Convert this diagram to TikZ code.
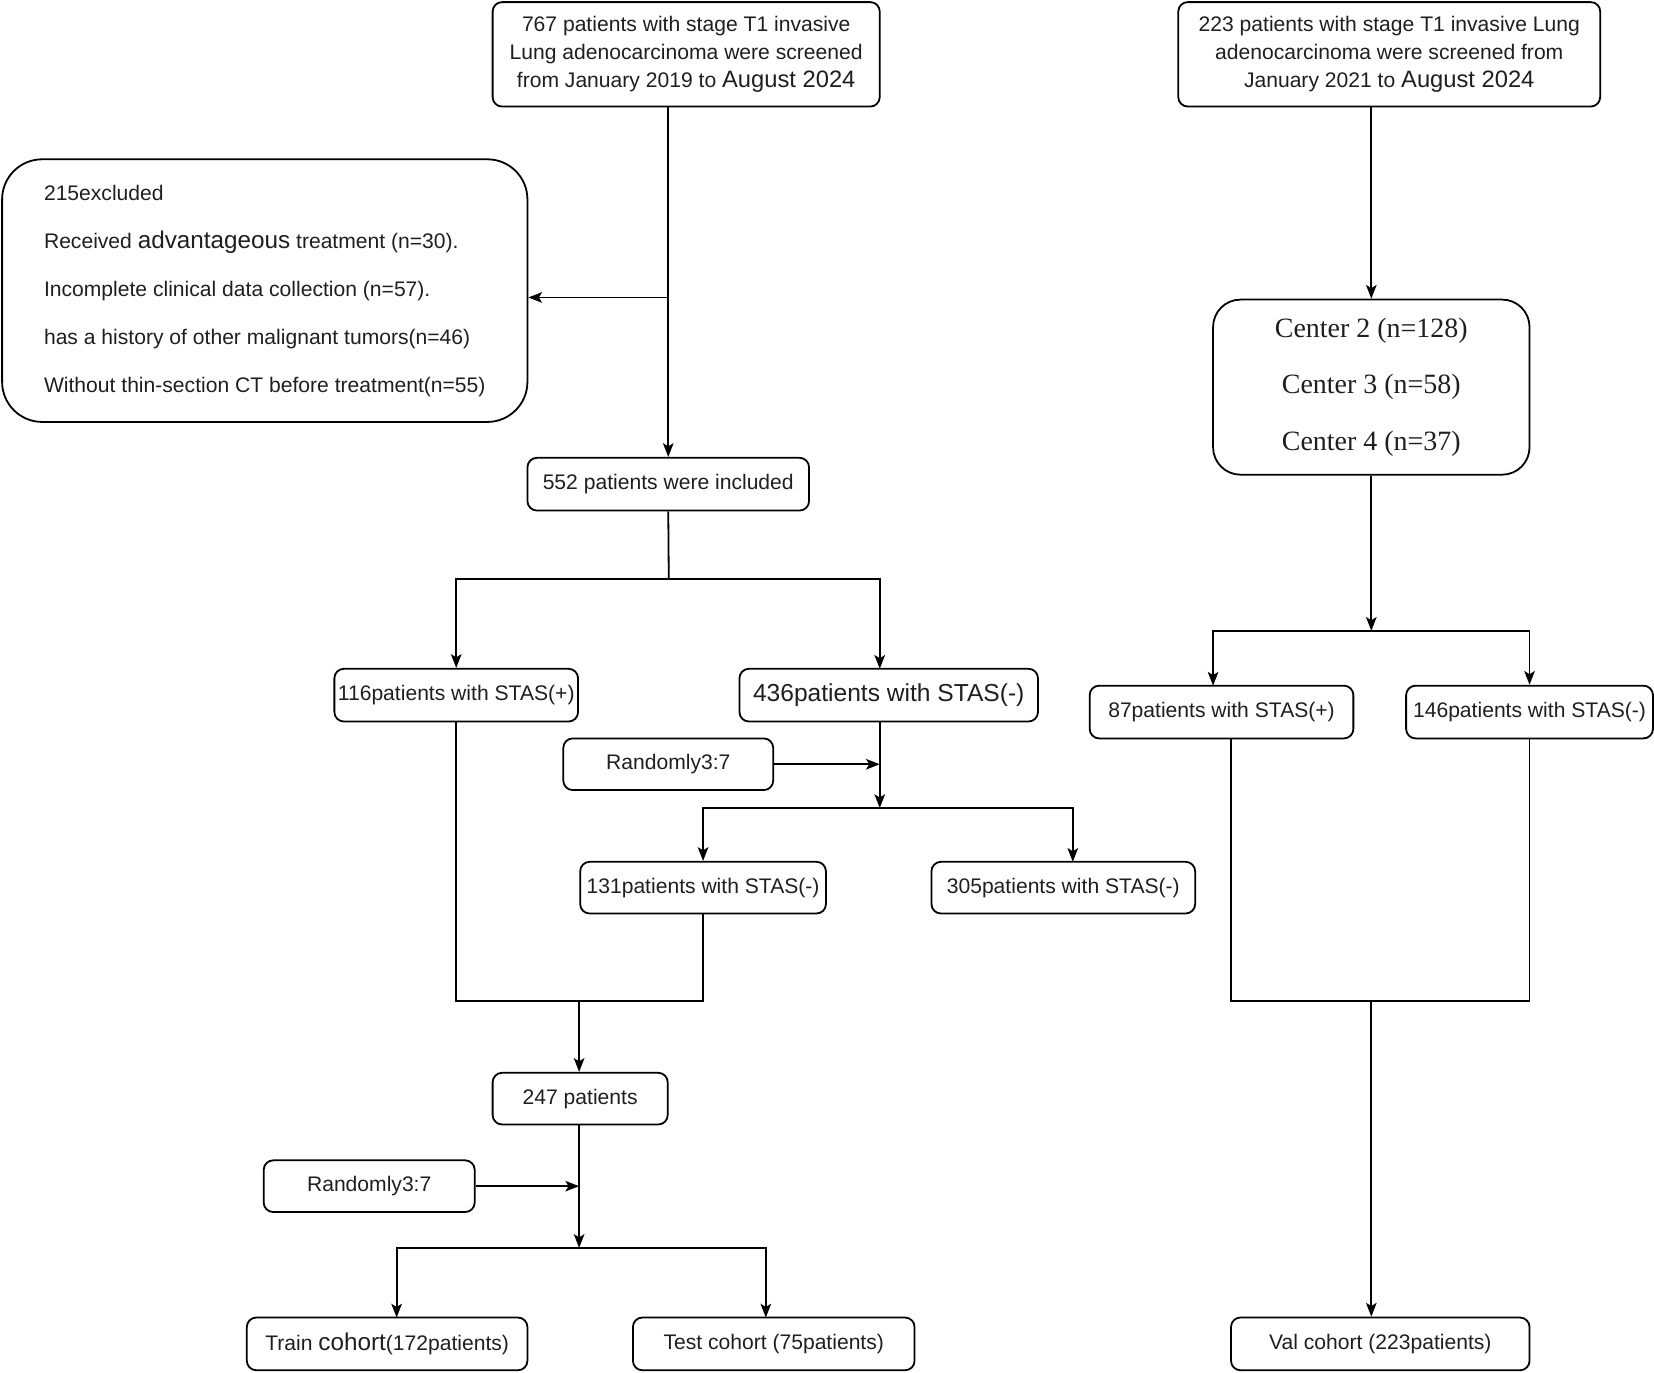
\documentclass[tikz,border=0pt]{standalone}
\usepackage{fontspec}
\setmainfont{Liberation Sans}
\newfontfamily\centerserif{Liberation Serif}
\usetikzlibrary{arrows.meta,calc}
\begin{document}
\begin{tikzpicture}[x=1pt,y=-1pt,
  box/.style={draw, line width=1.7pt, rounded corners=9pt, inner sep=0pt, align=center, text=black!88,
              font=\fontsize{20}{26.5}\selectfont},
  arr/.style={line width=1.7pt, -{Stealth[length=13pt,width=10pt,inset=3pt]}},
  ln/.style={line width=1.7pt}]
\useasboundingbox (0,0) rectangle (1568,1301);

% ---------- left branch ----------
\node[box, minimum width=367pt, minimum height=99pt] (A) at (650.5,51.5)
  {767 patients with stage T1 invasive\\ Lung adenocarcinoma were screened\\ from January 2019 to {\fontsize{22.5}{26.5}\selectfont August 2024}};

\node[box, rounded corners=38pt, minimum width=498pt, minimum height=249pt, align=left,
      font=\fontsize{20}{45.5}\selectfont] (E) at (251,275.5)
  {215excluded\\
   Received {\fontsize{23}{45.5}\selectfont advantageous} treatment (n=30).\\
   Incomplete clinical data collection (n=57).\\
   has a history of other malignant tumors(n=46)\\
   Without thin-section CT before treatment(n=55)};

\node[box, minimum width=267pt, minimum height=50pt] (N552) at (633.5,459) {552 patients were included};

\node[box, minimum width=231pt, minimum height=50pt] (P116) at (432.5,659) {116patients with STAS(+)};
\node[box, minimum width=283pt, minimum height=50pt, font=\fontsize{23.3}{26}\selectfont] (N436) at (842.5,659) {436patients with STAS(-)};

\node[box, minimum width=199pt, minimum height=49pt] (R1) at (633.5,724.5) {Randomly3:7};

\node[box, minimum width=233pt, minimum height=49pt] (N131) at (666.5,841.5) {131patients with STAS(-)};
\node[box, minimum width=250pt, minimum height=49pt] (N305) at (1008,841.5) {305patients with STAS(-)};

\node[box, minimum width=166pt, minimum height=49pt] (N247) at (550,1041.5) {247 patients};
\node[box, minimum width=200pt, minimum height=49pt] (R2) at (350,1124.5) {Randomly3:7};

\node[box, minimum width=266pt, minimum height=50pt] (Train) at (367,1274) {Train {\fontsize{23}{26}\selectfont cohort}(172patients)};
\node[box, minimum width=267pt, minimum height=50pt] (Test) at (733.5,1274) {Test cohort (75patients)};

% ---------- right branch ----------
\node[box, minimum width=400pt, minimum height=99pt] (B) at (1317,51.5)
  {223 patients with stage T1 invasive Lung\\ adenocarcinoma were screened from\\ January 2021 to {\fontsize{22.5}{26.5}\selectfont August 2024}};

\node[box, rounded corners=26pt, minimum width=300pt, minimum height=166pt, font=\centerserif\fontsize{26.5}{53.5}\selectfont] (C) at (1300,367)
  {Center 2 (n=128)\\ Center 3 (n=58)\\ Center 4 (n=37)};

\node[box, minimum width=250pt, minimum height=50pt] (P87) at (1158,675) {87patients with STAS(+)};
\node[box, minimum width=234pt, minimum height=50pt] (N146) at (1450,675) {146patients with STAS(-)};

\node[box, minimum width=283pt, minimum height=50pt] (Val) at (1308.5,1274) {Val cohort (223patients)};

% ---------- connectors: left ----------
\coordinate (j1) at (634,282);
\draw[arr] (A.south -| N552.north) -- (N552.north);
\draw[arr] (j1) -- (j1 -| E.east);

\coordinate (s1) at (634,549);
\coordinate (in436) at (834,634);
\draw[ln] (N552.south) -- (s1);
\draw[arr] (s1) -| (P116.north);
\draw[arr] (s1) -| (in436);

\coordinate (out436) at (834,684);
\coordinate (s2) at (834,766);
\draw[arr] (out436) -- (s2);
\draw[arr] (R1.east) -- (R1.east -| s2);
\coordinate (in305) at (1017,817);
\draw[arr] (s2) -| (N131.north);
\draw[arr] (s2) -| (in305);

\coordinate (m1) at (549,949);
\draw[ln] (P116.south) |- (m1);
\draw[ln] (N131.south) |- (m1);
\draw[arr] (m1) -- (m1 |- N247.north);

\coordinate (s3) at (549,1183);
\draw[arr] (N247.south -| s3) -- (s3);
\draw[arr] (R2.east) -- (R2.east -| s3);
\coordinate (inTrain) at (376,1249);
\coordinate (inTest) at (726,1249);
\draw[arr] (s3) -| (inTrain);
\draw[arr] (s3) -| (inTest);

% ---------- connectors: right ----------
\draw[arr] (B.south -| C.north) -- (C.north);
\coordinate (s4) at (1300,598);
\draw[arr] (C.south) -- (s4);
\coordinate (in87) at (1150,650);
\draw[arr] (s4) -| (in87);
\draw[arr] (s4) -| (N146.north);

\coordinate (out87) at (1167,700);
\coordinate (m2) at (1300,949);
\draw[ln] (out87) |- (m2);
\draw[ln] (N146.south) |- (m2);
\draw[arr] (m2) -- (m2 |- Val.north);
\end{tikzpicture}
\end{document}
